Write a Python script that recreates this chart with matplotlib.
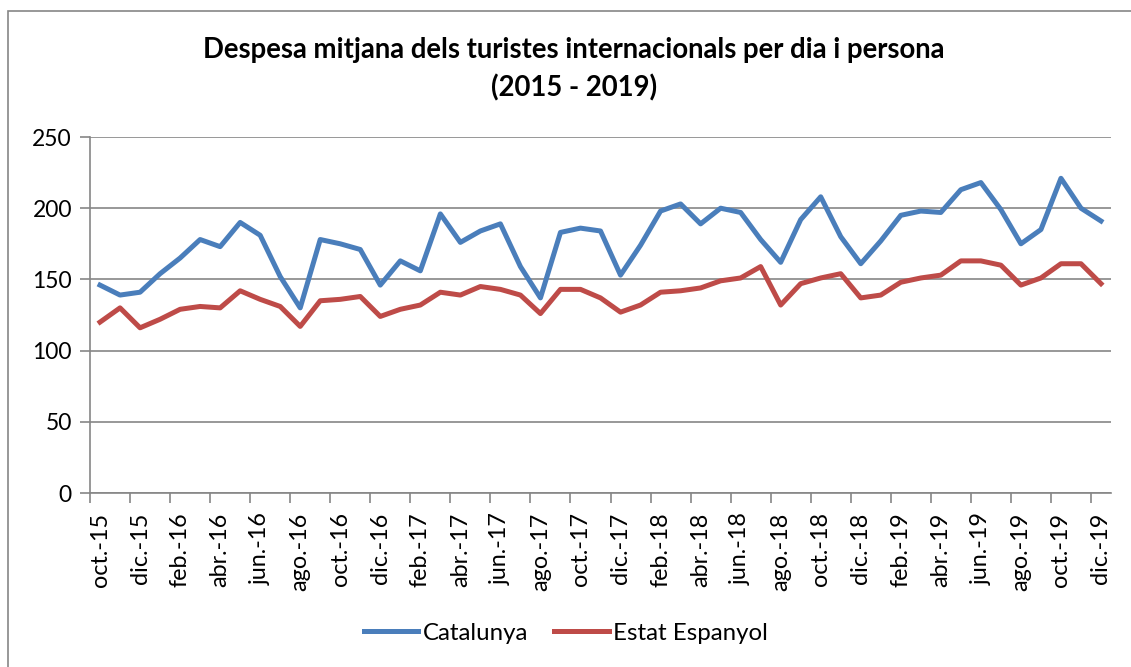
import matplotlib
matplotlib.use('Agg')
import matplotlib.pyplot as plt
from matplotlib.patches import Rectangle

plt.rcParams['font.family'] = ['Lato', 'DejaVu Sans']

# etiquetes de mes (oct-2015 .. dic-2019)
mesos = ['ene.', 'feb.', 'mar.', 'abr.', 'may.', 'jun.',
         'jul.', 'ago.', 'sep.', 'oct.', 'nov.', 'dic.']
anys = ['15', '16', '17', '18', '19']
etiquetes = [m + '-15' for m in mesos[9:]] + [m + '-' + a for a in anys[1:] for m in mesos]

catalunya = [146, 139, 141, 154, 165, 178, 173, 190, 181, 152, 130, 178, 175, 171, 146,
             163, 156, 196, 176, 184, 189, 159, 137, 183, 186, 184, 153, 174, 198, 203,
             189, 200, 197, 178, 162, 192, 208, 180, 161, 177, 195, 198, 197, 213, 218,
             199, 175, 185, 221, 200, 191]
espanya = [120, 130, 116, 122, 129, 131, 130, 142, 136, 131, 117, 135, 136, 138, 124,
           129, 132, 141, 139, 145, 143, 139, 126, 143, 143, 137, 127, 132, 141, 142,
           144, 149, 151, 159, 132, 147, 151, 154, 137, 139, 148, 151, 153, 163, 163,
           160, 146, 151, 161, 161, 147]

W, H = 1131, 667
fig = plt.figure(figsize=(W / 100, H / 100), dpi=100)
fig.patches.append(Rectangle((8 / W, -0.05), 1.2, 1 - 11 / H + 0.05, transform=fig.transFigure,
                             fill=False, edgecolor='#868686', linewidth=1.2))

ax = fig.add_axes([90 / W, (H - 493) / H, (1111 - 90) / W, (493 - 137) / H])
x = list(range(len(etiquetes)))
ax.plot(x, catalunya, color='#4A7EBB', linewidth=3.6, label='Catalunya', solid_joinstyle='round')
ax.plot(x, espanya, color='#BE4B48', linewidth=3.6, label='Estat Espanyol', solid_joinstyle='round')

ax.set_xlim(-0.5, len(etiquetes) - 0.5)
ax.set_ylim(0, 250)
ax.set_yticks(range(0, 251, 50))
ax.yaxis.grid(True, color='#868686', linewidth=1.2)
ax.set_axisbelow(True)

ax.set_xticks([i - 0.5 for i in range(0, len(etiquetes), 2)])
ax.set_xticklabels([])
ax.set_xticks(x[::2], minor=True)
ax.set_xticklabels(etiquetes[::2], minor=True, rotation=90, fontsize=16.8)
ax.tick_params(axis='x', which='major', length=7, color='#868686', width=1.2)
ax.tick_params(axis='x', which='minor', length=0, pad=14)
ax.tick_params(axis='y', length=7, color='#868686', width=1.2, labelsize=16.5, pad=6)

for s in ['top', 'right']:
    ax.spines[s].set_visible(False)
for s in ['left', 'bottom']:
    ax.spines[s].set_color('#868686')
    ax.spines[s].set_linewidth(1.2)

fig.text(574 / W, 1 - 50 / H, 'Despesa mitjana dels turistes internacionals per dia i persona',
         ha='center', va='center', fontsize=19.8, fontweight='bold')
fig.text(574 / W, 1 - 88 / H, '(2015 - 2019)', ha='center', va='center', fontsize=19.8, fontweight='bold')

fig.legend(loc='center', bbox_to_anchor=(566 / W, 1 - 633 / H), ncol=2, frameon=False,
           fontsize=17.3, handlelength=2.25, handletextpad=0.2, columnspacing=1.1)

fig.savefig('out.png', dpi=100)
